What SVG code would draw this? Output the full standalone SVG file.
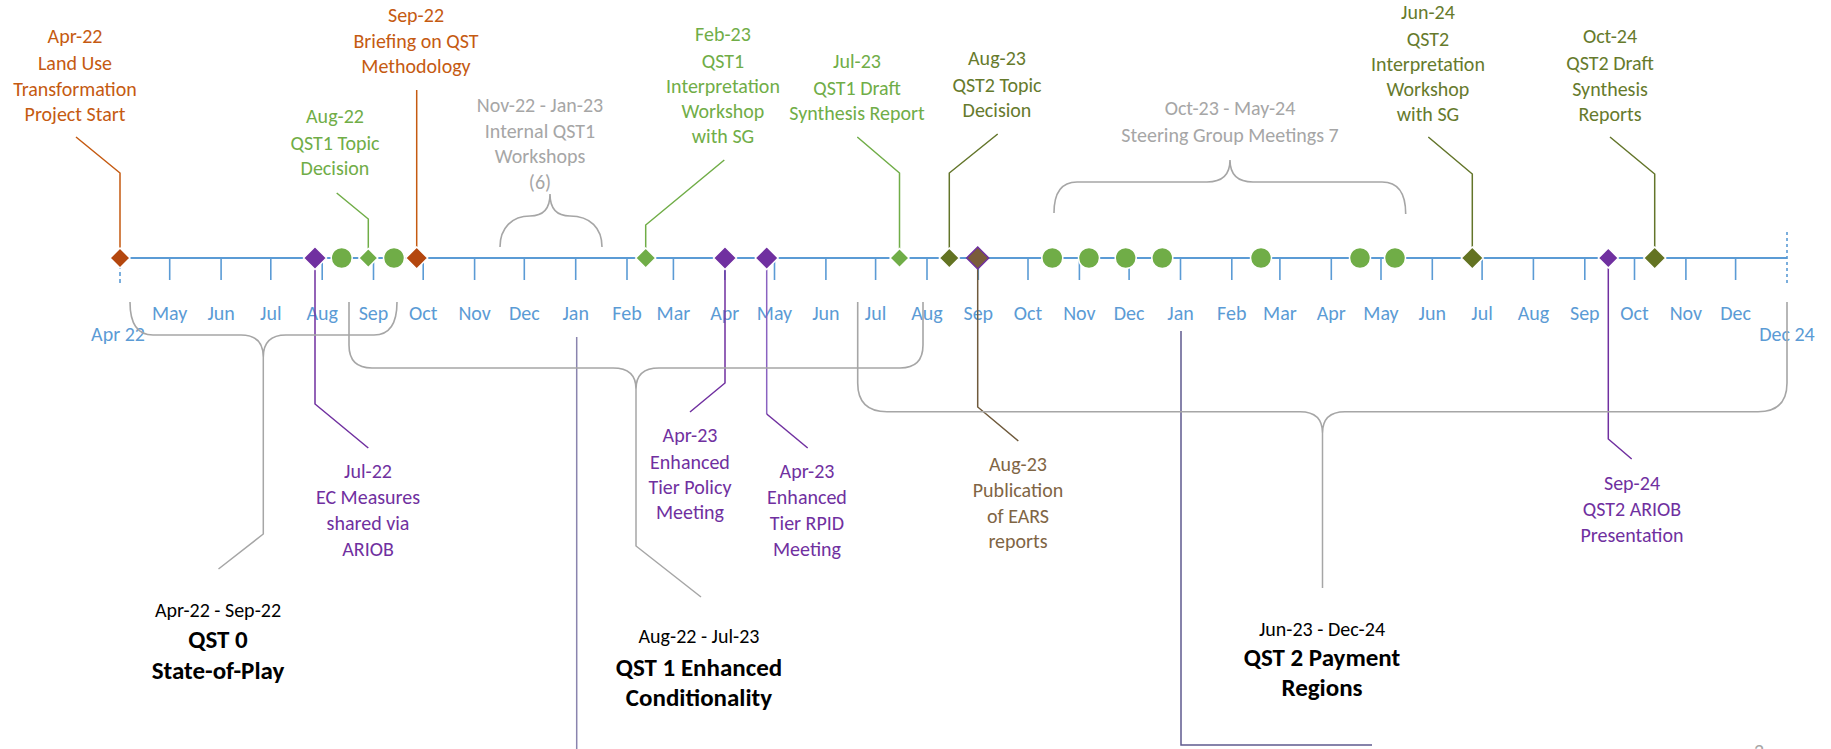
<svg xmlns="http://www.w3.org/2000/svg" width="1831" height="749" viewBox="0 0 1831 749">
<style>
text{font-family:Carlito,Lato,"Liberation Sans",sans-serif;font-size:20px;text-anchor:middle}
.or{fill:#C55A11}.gr{fill:#70AD47}.ol{fill:#667A2C}.gy{fill:#A6A6A6}.pu{fill:#7030A0}.br{fill:#7F6544}.mo{fill:#5B9BD5}.bk{fill:#000}
.b{font-weight:bold;font-size:25px}
.tick{stroke:#5B9BD5;stroke-width:1.6}
.brace{fill:none;stroke:#A6A6A6;stroke-width:1.6}
.cl{fill:none;stroke-width:1.5}
.mk{stroke:#fff;stroke-width:1.5}
</style>
<rect width="1831" height="749" fill="#fff"/>
<g id="axis">
<line x1="120" y1="258" x2="1787" y2="258" stroke="#5B9BD5" stroke-width="2"/>
<line x1="120" y1="258" x2="120" y2="284" class="tick" stroke-dasharray="4,3"/>
<line x1="1787" y1="232" x2="1787" y2="284" class="tick" stroke-dasharray="3,3"/>
<g class="tick">
<line x1="169.7" y1="258" x2="169.7" y2="280"/><line x1="221.1" y1="258" x2="221.1" y2="280"/><line x1="270.8" y1="258" x2="270.8" y2="280"/><line x1="322.2" y1="258" x2="322.2" y2="280"/><line x1="373.5" y1="258" x2="373.5" y2="280"/><line x1="423.2" y1="258" x2="423.2" y2="280"/><line x1="474.6" y1="258" x2="474.6" y2="280"/><line x1="524.3" y1="258" x2="524.3" y2="280"/><line x1="575.7" y1="258" x2="575.7" y2="280"/><line x1="627" y1="258" x2="627" y2="280"/><line x1="673.4" y1="258" x2="673.4" y2="280"/><line x1="724.8" y1="258" x2="724.8" y2="280"/><line x1="774.5" y1="258" x2="774.5" y2="280"/><line x1="825.9" y1="258" x2="825.9" y2="280"/><line x1="875.6" y1="258" x2="875.6" y2="280"/><line x1="927" y1="258" x2="927" y2="280"/><line x1="978.3" y1="258" x2="978.3" y2="280"/><line x1="1028" y1="258" x2="1028" y2="280"/><line x1="1079.4" y1="258" x2="1079.4" y2="280"/><line x1="1129.1" y1="258" x2="1129.1" y2="280"/><line x1="1180.5" y1="258" x2="1180.5" y2="280"/><line x1="1231.8" y1="258" x2="1231.8" y2="280"/><line x1="1279.9" y1="258" x2="1279.9" y2="280"/><line x1="1331.3" y1="258" x2="1331.3" y2="280"/><line x1="1381" y1="258" x2="1381" y2="280"/><line x1="1432.3" y1="258" x2="1432.3" y2="280"/><line x1="1482.1" y1="258" x2="1482.1" y2="280"/><line x1="1533.4" y1="258" x2="1533.4" y2="280"/><line x1="1584.8" y1="258" x2="1584.8" y2="280"/><line x1="1634.5" y1="258" x2="1634.5" y2="280"/><line x1="1685.9" y1="258" x2="1685.9" y2="280"/><line x1="1735.6" y1="258" x2="1735.6" y2="280"/>
</g>
<g class="mo">
<text x="118" y="341">Apr 22</text><text x="1787" y="341">Dec 24</text>
<text x="169.7" y="320">May</text><text x="221.1" y="320">Jun</text><text x="270.8" y="320">Jul</text><text x="322.2" y="320">Aug</text><text x="373.5" y="320">Sep</text><text x="423.2" y="320">Oct</text><text x="474.6" y="320">Nov</text><text x="524.3" y="320">Dec</text><text x="575.7" y="320">Jan</text><text x="627" y="320">Feb</text><text x="673.4" y="320">Mar</text><text x="724.8" y="320">Apr</text><text x="774.5" y="320">May</text><text x="825.9" y="320">Jun</text><text x="875.6" y="320">Jul</text><text x="927" y="320">Aug</text><text x="978.3" y="320">Sep</text><text x="1028" y="320">Oct</text><text x="1079.4" y="320">Nov</text><text x="1129.1" y="320">Dec</text><text x="1180.5" y="320">Jan</text><text x="1231.8" y="320">Feb</text><text x="1279.9" y="320">Mar</text><text x="1331.3" y="320">Apr</text><text x="1381" y="320">May</text><text x="1432.3" y="320">Jun</text><text x="1482.1" y="320">Jul</text><text x="1533.4" y="320">Aug</text><text x="1584.8" y="320">Sep</text><text x="1634.5" y="320">Oct</text><text x="1685.9" y="320">Nov</text><text x="1735.6" y="320">Dec</text>
</g>
</g>
<g id="connectors">
<polyline class="cl" stroke="#C55A11" points="76,137 120,173 120,250"/>
<polyline class="cl" stroke="#C55A11" points="416.7,90 416.7,248"/>
<polyline class="cl" stroke="#70AD47" points="336.7,193 368.3,219 368.3,250"/>
<polyline class="cl" stroke="#70AD47" points="724.3,160 645.7,225 645.7,250"/>
<polyline class="cl" stroke="#70AD47" points="857.3,137 899.5,173 899.5,250"/>
<polyline class="cl" stroke="#63752A" points="997.7,134 949.3,173 949.3,250"/>
<polyline class="cl" stroke="#63752A" points="1428.3,137 1472.3,174 1472.3,248"/>
<polyline class="cl" stroke="#63752A" points="1610,137 1654.7,174 1654.7,248"/>
<polyline class="cl" stroke="#7030A0" points="315,268 315,404 368.3,448"/>
<polyline class="cl" stroke="#7030A0" points="725,268 725,383 690,412"/>
<polyline class="cl" stroke="#8A62C0" points="766.7,268 766.7,414"/>
<line class="cl" stroke="#7030A0" x1="766.7" y1="414" x2="807.7" y2="448"/>
<polyline class="cl" stroke="#6F5A3C" points="977.7,268 977.7,407 1018.3,441"/>
<polyline class="cl" stroke="#7030A0" points="1608.3,268 1608.3,439 1631.7,459"/>
<polyline class="cl" stroke="#8A84AE" points="576.7,337 576.7,749"/>
<polyline class="cl" stroke="#5F5A8F" points="1181,331 1181,745 1372,745"/>
<path class="brace" d="M500,247 C500,228 512,216 530,216 Q550,216 550,194 Q550,216 570,216 C590,216 602,228 602,247"/>
<path class="brace" d="M1054,213 Q1054,182 1077,182 L1207,182 Q1230,182 1230,160 Q1230,182 1253,182 L1382,182 Q1405.7,182 1405.7,214"/>
<path class="brace" d="M130,302 Q130,335 153,335 L241,335 Q263.3,335 263.3,357 Q263.3,335 286,335 L374,335 Q397,335 397,302"/>
<path class="brace" d="M349,302 L349,345 Q349,368 372,368 L613,368 Q636,368 636,389 Q636,368 659,368 L900,368 Q923,368 923,345 L923,302"/>
<path class="brace" d="M857.7,302 L857.7,383 Q857.7,411.7 887,411.7 L1300,411.7 Q1322.5,411.7 1322.5,433 Q1322.5,411.7 1345,411.7 L1758,411.7 Q1787,411.7 1787,383 L1787,302"/>
<polyline class="cl" stroke="#A6A6A6" points="263.3,357 263.3,534 218.5,569"/>
<polyline class="cl" stroke="#A6A6A6" points="636,389 636,546 701,597"/>
<polyline class="cl" stroke="#A6A6A6" points="1322.5,433 1322.5,588"/>
</g>
<g id="n-apr22">
<path class="mk" fill="#B4470E" d="M120,248 L130,258 L120,268 L110,258 Z"/>
<text class="or" x="75" y="43">Apr-22</text><text class="or" x="75" y="70">Land Use</text><text class="or" x="75" y="96">Transformation</text><text class="or" x="75" y="121">Project Start</text>
</g>
<g id="n-jul22">
<path class="mk" fill="#7030A0" d="M315,246.5 L326.5,258 L315,269.5 L303.5,258 Z"/>
<text class="pu" x="368" y="478">Jul-22</text><text class="pu" x="368" y="504">EC Measures</text><text class="pu" x="368" y="530">shared via</text><text class="pu" x="368" y="556">ARIOB</text>
</g>
<g id="n-aug22-circles">
<circle class="mk" fill="#70AD47" cx="341.7" cy="258" r="10.5"/>
<circle class="mk" fill="#70AD47" cx="394" cy="258" r="10.5"/>
</g>
<g id="n-aug22">
<path class="mk" fill="#70AD47" d="M368.3,248.5 L377.8,258 L368.3,267.5 L358.8,258 Z"/>
<text class="gr" x="335" y="123">Aug-22</text><text class="gr" x="335" y="150">QST1 Topic</text><text class="gr" x="335" y="175">Decision</text>
</g>
<g id="n-sep22">
<path class="mk" fill="#B4470E" d="M416.7,247 L427.7,258 L416.7,269 L405.7,258 Z"/>
<text class="or" x="416" y="22">Sep-22</text><text class="or" x="416" y="48">Briefing on QST</text><text class="or" x="416" y="73">Methodology</text>
</g>
<g id="n-internal">
<text class="gy" x="540" y="112">Nov-22 - Jan-23</text><text class="gy" x="540" y="138">Internal QST1</text><text class="gy" x="540" y="163">Workshops</text><text class="gy" x="540" y="189">(6)</text>
</g>
<g id="n-feb23">
<path class="mk" fill="#70AD47" d="M645.7,248 L655.7,258 L645.7,268 L635.7,258 Z"/>
<text class="gr" x="723" y="41">Feb-23</text><text class="gr" x="723" y="68">QST1</text><text class="gr" x="723" y="93">Interpretation</text><text class="gr" x="723" y="118">Workshop</text><text class="gr" x="723" y="143">with SG</text>
</g>
<g id="n-apr23-policy">
<path class="mk" fill="#7030A0" d="M725,246.5 L736.5,258 L725,269.5 L713.5,258 Z"/>
<text class="pu" x="690" y="442">Apr-23</text><text class="pu" x="690" y="469">Enhanced</text><text class="pu" x="690" y="494">Tier Policy</text><text class="pu" x="690" y="519">Meeting</text>
</g>
<g id="n-apr23-rpid">
<path class="mk" fill="#7030A0" d="M766.7,246.5 L778.2,258 L766.7,269.5 L755.2,258 Z"/>
<text class="pu" x="807" y="478">Apr-23</text><text class="pu" x="807" y="504">Enhanced</text><text class="pu" x="807" y="530">Tier RPID</text><text class="pu" x="807" y="556">Meeting</text>
</g>
<g id="n-jul23">
<path class="mk" fill="#70AD47" d="M899.5,248.5 L909,258 L899.5,267.5 L890,258 Z"/>
<text class="gr" x="857" y="68">Jul-23</text><text class="gr" x="857" y="95">QST1 Draft</text><text class="gr" x="857" y="120">Synthesis Report</text>
</g>
<g id="n-aug23-topic">
<path class="mk" fill="#637322" d="M949.3,248 L959.3,258 L949.3,268 L939.3,258 Z"/>
<text class="ol" x="997" y="65">Aug-23</text><text class="ol" x="997" y="92">QST2 Topic</text><text class="ol" x="997" y="117">Decision</text>
</g>
<g id="n-aug23-pub">
<path fill="#7A5C3A" stroke="#7030A0" stroke-width="1.5" d="M977.7,247 L988.7,258 L977.7,269 L966.7,258 Z"/>
<text class="br" x="1018" y="471">Aug-23</text><text class="br" x="1018" y="497">Publication</text><text class="br" x="1018" y="523">of EARS</text><text class="br" x="1018" y="548">reports</text>
</g>
<g id="n-steering">
<circle class="mk" fill="#70AD47" cx="1052.3" cy="258" r="10.5"/>
<circle class="mk" fill="#70AD47" cx="1089" cy="258" r="10.5"/>
<circle class="mk" fill="#70AD47" cx="1125.7" cy="258" r="10.5"/>
<circle class="mk" fill="#70AD47" cx="1162.3" cy="258" r="10.5"/>
<circle class="mk" fill="#70AD47" cx="1261" cy="258" r="10.5"/>
<circle class="mk" fill="#70AD47" cx="1360" cy="258" r="10.5"/>
<circle class="mk" fill="#70AD47" cx="1395" cy="258" r="10.5"/>
<text class="gy" x="1230" y="115">Oct-23 - May-24</text><text class="gy" x="1230" y="142">Steering Group Meetings 7</text>
</g>
<g id="n-jun24">
<path class="mk" fill="#637322" d="M1472.3,247 L1483.3,258 L1472.3,269 L1461.3,258 Z"/>
<text class="ol" x="1428" y="19">Jun-24</text><text class="ol" x="1428" y="46">QST2</text><text class="ol" x="1428" y="71">Interpretation</text><text class="ol" x="1428" y="96">Workshop</text><text class="ol" x="1428" y="121">with SG</text>
</g>
<g id="n-sep24">
<path class="mk" fill="#7030A0" d="M1608.3,248 L1618.3,258 L1608.3,268 L1598.3,258 Z"/>
<text class="pu" x="1632" y="490">Sep-24</text><text class="pu" x="1632" y="516">QST2 ARIOB</text><text class="pu" x="1632" y="542">Presentation</text>
</g>
<g id="n-oct24">
<path class="mk" fill="#637322" d="M1654.7,247 L1665.7,258 L1654.7,269 L1643.7,258 Z"/>
<text class="ol" x="1610" y="43">Oct-24</text><text class="ol" x="1610" y="70">QST2 Draft</text><text class="ol" x="1610" y="96">Synthesis</text><text class="ol" x="1610" y="121">Reports</text>
</g>
<g id="n-qst0">
<text class="bk" x="218" y="617">Apr-22 - Sep-22</text><text class="bk b" x="218" y="648">QST 0</text><text class="bk b" x="218" y="679">State-of-Play</text>
</g>
<g id="n-qst1">
<text class="bk" x="699" y="643">Aug-22 - Jul-23</text><text class="bk b" x="699" y="676">QST 1 Enhanced</text><text class="bk b" x="699" y="706">Conditionality</text>
</g>
<g id="n-qst2">
<text class="bk" x="1322" y="636">Jun-23 - Dec-24</text><text class="bk b" x="1322" y="666">QST 2 Payment</text><text class="bk b" x="1322" y="696">Regions</text>
</g>
<text x="1759" y="758" font-size="26" fill="#A6A6A6">2</text>
</svg>
